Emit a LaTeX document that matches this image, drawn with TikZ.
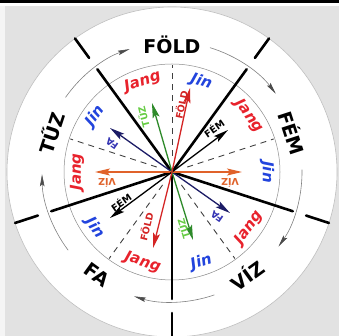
\documentclass[tikz,border=0pt]{standalone}
\usepackage{fontspec}
\setmainfont{DejaVu Sans}
\usetikzlibrary{arrows.meta}
\definecolor{bg}{HTML}{E2E2E2}
\definecolor{jangred}{HTML}{E8222C}
\definecolor{jinblue}{HTML}{2244DD}
\definecolor{arrred}{HTML}{D42424}
\definecolor{arrgreen}{HTML}{2E8A2A}
\definecolor{labgreen}{HTML}{66CC44}
\definecolor{arrnavy}{HTML}{1C1C66}
\definecolor{labnavy}{HTML}{3434B4}
\definecolor{arrorange}{HTML}{E0622A}
\tikzset{
  spoke/.style={line width=2.6pt, black, line cap=round},
  thinring/.style={line width=0.5pt, black!45},
  dashline/.style={line width=0.9pt, black!75, dash pattern=on 6pt off 5pt},
  ringarc/.style={line width=0.6pt, black!50, -{Stealth[length=12pt,width=4.5pt,inset=2pt,black!70]}},
  elem/.style={inner sep=0pt, font=\fontsize{19}{19}\selectfont\bfseries},
  yy/.style={inner sep=0pt, font=\fontsize{15}{15}\selectfont\bfseries\itshape},
  arr/.style={line width=1.3pt, -{Stealth[length=15pt,width=7pt,inset=3pt]}},
  alab/.style={inner sep=0pt, font=\fontsize{9.5}{9.5}\selectfont\bfseries}
}
\begin{document}
\begin{tikzpicture}[x=1pt,y=1pt]
\useasboundingbox (0,0) rectangle (339,336);
\fill[bg] (0,0) rectangle (339,336);
\fill[white!96!black] (0,0) rectangle (5,333);
\fill[white] (0,330) rectangle (339,333);
\fill[black] (0,333) rectangle (339,336);
\coordinate (O) at (172,164);
\fill[white, draw=black!25, line width=0.6pt] (O) circle (165);
\begin{scope}[shift={(172,164)}]
  % rings
  \draw[thinring] (0,0) circle (108);
  % dashed mid lines
  \foreach \a in {90,18,-54,-126,162} \draw[dashline] (\a:16) -- (\a:107);
  % spokes and outer ticks
  \foreach \a in {54,126,198,270,342} {
    \draw[spoke] (0,0) -- (\a:127);
    \draw[spoke] (\a:141) -- (\a:165);
  }
  % arrow ring arcs
  \foreach \L in {90,18,-54,-126,162}
    \draw[ringarc] ({\L+55}:130) arc[start angle={\L+55}, end angle={\L+19}, radius=130];
  % element names
  \foreach \t/\a/\r/\n in {FÖLD/90/0/fold, FÉM/18/-72/fem, VÍZ/306/36/viz, FA/234/-36/fa, TŰZ/162/72/tuz}
    \node[elem, rotate=\r] (el\n) at (\a:127) {\t};
  % Jang / Jin
  \foreach \a/\t/\c [count=\i] in {108/Jang/jangred, 72/Jin/jinblue, 36/Jang/jangred, 0/Jin/jinblue,
      324/Jang/jangred, 288/Jin/jinblue, 252/Jang/jangred, 216/Jin/jinblue, 180/Jang/jangred, 144/Jin/jinblue} {
    \pgfmathsetmacro\rr{(\a>180)?(\a+90):(\a-90)}
    \node[yy, text=\c, rotate=\rr] (yy\i) at (\a:95) {\t};
  }
  % centre arrows
  \coordinate (C) at (0,0);
  \coordinate (t1) at (18,84);
  \coordinate (t2) at (-20,69);
  \coordinate (t3) at (56,42);
  \coordinate (t4) at (-62,44);
  \coordinate (t5) at (70,0);
  \coordinate (t6) at (-77,0);
  \coordinate (t7) at (-62,-46);
  \coordinate (t8) at (-19,-76);
  \coordinate (t9) at (21,-68);
  \coordinate (t10) at (58,-41);
  \draw[arr, arrnavy] (C) -- (t4);
  \draw[arr, arrnavy] (C) -- (t10);
  \draw[arr, arrorange] (C) -- (t5);
  \draw[arr, arrorange] (C) -- (t6);
  \draw[arr, black] (C) -- (t3);
  \draw[arr, black] (C) -- (t7);
  \draw[arr, arrgreen] (C) -- (t2);
  \draw[arr, arrgreen] (C) -- (t9);
  \draw[arr, arrred] (C) -- (t1);
  \draw[arr, arrred] (C) -- (t8);
  % arrow labels
  \node[alab, text=arrred, rotate=78] (l1) at (9,67) {FÖLD};
  \node[alab, text=labgreen, rotate=104] (l2) at (-29,55) {TŰZ};
  \node[alab, text=black, rotate=35] (l3) at (42,44) {FÉM};
  \node[alab, text=labnavy, rotate=145] (l4) at (-60,28) {FA};
  \node[alab, text=arrorange, rotate=180] (l5) at (58,-11) {VÍZ};
  \node[alab, text=arrorange, rotate=180] (l6) at (-65,-11) {VÍZ};
  \node[alab, text=black, rotate=35] (l7) at (-51,-30) {FÉM};
  \node[alab, text=arrred, rotate=76] (l8) at (-26,-55) {FÖLD};
  \node[alab, text=labgreen, rotate=107] (l9) at (11,-57) {TŰZ};
  \node[alab, text=labnavy, rotate=145] (l10) at (45,-45) {FA};
\end{scope}
\end{tikzpicture}
\end{document}
